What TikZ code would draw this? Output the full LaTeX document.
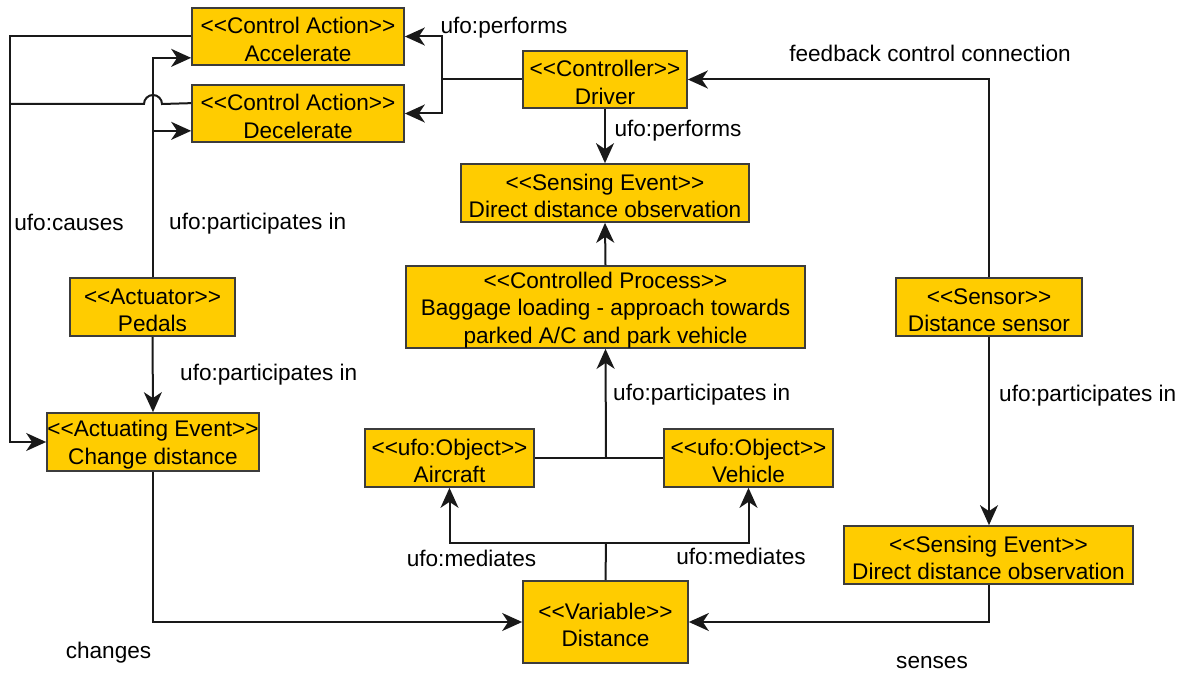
\documentclass[tikz,border=0pt]{standalone}
\usepackage{fontspec}
\setmainfont{Liberation Sans}
\usetikzlibrary{arrows.meta}
\definecolor{boxfill}{RGB}{255,204,0}
\definecolor{ink}{RGB}{25,25,25}
% stereotype brackets, kept apart so they are not turned into guillemets;
% the strut sets the first line a little lower in its box
\newcommand{\stOpen}{\rule{0pt}{22pt}<\kern0pt<}
\newcommand{\stClose}{>\kern0pt>}
\begin{document}
\begin{tikzpicture}[x=1pt,y=-1pt,
  every node/.style={font=\fontsize{22.6}{27.5}\selectfont},
  umlbox/.style={draw=ink!85, fill=boxfill, line width=1.7pt, inner sep=0pt, align=center},
  link/.style={draw=ink, line width=2pt},
  arr/.style={link, -{Stealth[length=20pt,width=18pt,inset=6pt]}},
  lbl/.style={inner sep=0pt, text height=16pt, text depth=5pt, yshift=-3pt}]
\useasboundingbox (0,0) rectangle (1189,674);
\fill[white] (0,0) rectangle (1189,674);

% boxes
\node[umlbox, minimum width=212pt, minimum height=57pt] (acc) at (298,36.5) {\stOpen Control Action\stClose\\Accelerate};
\node[umlbox, minimum width=212pt, minimum height=57pt] (dec) at (298,113.5) {\stOpen Control Action\stClose\\Decelerate};
\node[umlbox, minimum width=164pt, minimum height=57pt] (drv) at (605,79.5) {\stOpen Controller\stClose\\Driver};
\node[umlbox, minimum width=288pt, minimum height=58pt] (se1) at (605,193) {\stOpen Sensing Event\stClose\\Direct distance observation};
\node[umlbox, minimum width=399pt, minimum height=82pt] (cp) at (605.5,307) {\stOpen Controlled Process\stClose\\Baggage loading - approach towards\\parked A/C and park vehicle};
\node[umlbox, minimum width=165pt, minimum height=58pt] (ped) at (152.5,307) {\stOpen Actuator\stClose\\Pedals};
\node[umlbox, minimum width=212pt, minimum height=58pt] (act) at (153,442) {\stOpen Actuating Event\stClose\\Change distance};
\node[umlbox, minimum width=169pt, minimum height=58pt] (air) at (449.5,458) {\stOpen ufo:Object\stClose\\Aircraft};
\node[umlbox, minimum width=169pt, minimum height=58pt] (veh) at (748.5,458) {\stOpen ufo:Object\stClose\\Vehicle};
\node[umlbox, minimum width=186pt, minimum height=58pt] (sen) at (989,307) {\stOpen Sensor\stClose\\Distance sensor};
\node[umlbox, minimum width=289pt, minimum height=58pt] (se2) at (988.5,555) {\stOpen Sensing Event\stClose\\Direct distance observation};
\node[umlbox, minimum width=165pt, minimum height=82pt] (dist) at (605.5,622) {\stOpen Variable\stClose\\Distance};

% junction points
\coordinate (pj) at (442,79.5);
\coordinate (oj) at (606,458);
\coordinate (mj) at (606,543);
\coordinate (lx) at (10,36.5);

% driver performs the control actions
\draw[link] (drv.west) -- (pj);
\draw[arr] (pj) |- (acc.east);
\draw[arr] (pj) |- (dec.east);

% driver performs the sensing event
\draw[arr] (drv.south) -- (se1.north);
\draw[arr] (cp.north) -- (se1.south);

% objects participate in the controlled process
\draw[link] (air.east) -- (veh.west);
\draw[arr] (oj) -- (cp.south);

% variable mediates the objects
\draw[link] (dist.north) -- (mj);
\draw[arr] (mj) -| (air.south);
\draw[arr] (mj) -| (veh.south);

% actuating event changes the variable, sensing event senses it
\draw[arr] (act.south) |- (dist.west);
\draw[arr] (se2.south) |- (dist.east);

% feedback loop from the sensor
\draw[arr] (sen.north) |- (drv.east);
\draw[arr] (sen.south) -- (sen.south |- se2.north);

% pedals participate in the control actions
\draw[arr] (ped.north) |- ([yshift=8pt]acc.south west);
\draw[arr] (ped.north) |- ([yshift=12pt]dec.south west);
\draw[arr] (ped.south) -- (act.north);

% control actions cause the actuating event
\draw[arr] (acc.west) -- (lx) |- (act.west);
\draw[link] ([yshift=-19pt]dec.north west) -- (162,104)
  arc[start angle=0, end angle=180, radius=9pt] -- (10,104);

% connector labels
\node[lbl] (lperf1) at (504,25) {ufo:performs};
\node[lbl] (lperf2) at (678,128) {ufo:performs};
\node[lbl] (lfb) at (930,53) {feedback control connection};
\node[lbl] (lcause) at (69,222) {ufo:causes};
\node[lbl, anchor=west] (lpart1) at (169,221) {ufo:participates in};
\node[lbl, anchor=west] (lpart2) at (180,372) {ufo:participates in};
\node[lbl, anchor=west] (lpart3) at (613,392) {ufo:participates in};
\node[lbl, anchor=west] (lpart4) at (999,393) {ufo:participates in};
\node[lbl] (lmed1) at (471.5,558) {ufo:mediates};
\node[lbl] (lmed2) at (741,556) {ufo:mediates};
\node[lbl] (lchg) at (108.5,650) {changes};
\node[lbl] (lsns) at (932,660) {senses};
\end{tikzpicture}
\end{document}
